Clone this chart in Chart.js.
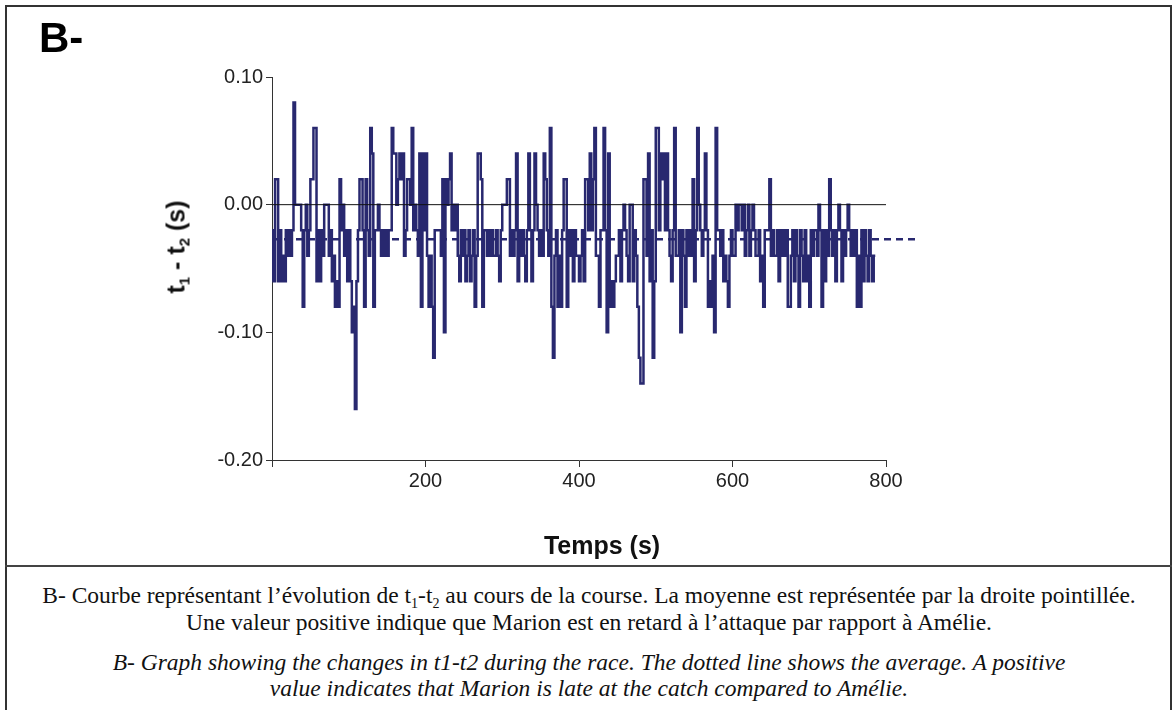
<!DOCTYPE html>
<html lang="fr">
<head>
<meta charset="utf-8">
<script src="https://cdn.jsdelivr.net/npm/chart.js@4.4.1/dist/chart.umd.min.js"></script>
<style>
  body { margin:0; width:1174px; height:710px; overflow:hidden; background:#fff; position:relative; font-family:"Liberation Sans", Arial, sans-serif; }
  #cadre { position:absolute; left:5px; top:5px; width:1163px; height:720px; border:2px solid #333; }
  #sep { position:absolute; left:5px; top:565px; width:1167px; height:2px; background:#444; }
  #titre { position:absolute; left:39px; top:14px; font-size:42px; font-weight:bold; color:#000; line-height:1.15; }
  #ytitre { position:absolute; left:176px; top:247px; transform:translate(-50%,-50%) rotate(-90deg); font-size:25px; font-weight:bold; white-space:nowrap; color:#111; }
  #xtitre { position:absolute; left:602px; top:545px; transform:translate(-50%,-50%); font-size:25px; font-weight:bold; white-space:nowrap; color:#111; }
  .leg { position:absolute; left:6px; width:1166px; text-align:center; font-family:"Liberation Serif", "Times New Roman", serif; font-size:23.5px; line-height:27px; color:#111; white-space:nowrap; }
  .leg i { font-style:italic; }
  sub { font-size:60%; vertical-align:-0.35em; line-height:0; }
  #myChart { position:absolute; left:0; top:0; }
</style>
</head>
<body>
<div id="cadre"></div>
<div id="sep"></div>
<canvas id="myChart" width="1174" height="566"></canvas>
<div id="titre">B-</div>
<div id="ytitre">t<sub>1</sub> - t<sub>2</sub> (s)</div>
<div id="xtitre">Temps (s)</div>
<div class="leg" style="top:582px">B- Courbe représentant l’évolution de t<sub>1</sub>-t<sub>2</sub> au cours de la course. La moyenne est représentée par la droite pointillée.</div>
<div class="leg" style="top:609px">Une valeur positive indique que Marion est en retard à l’attaque par rapport à Amélie.</div>
<div class="leg" style="top:649px"><i>B- Graph showing the changes in t1-t2 during the race. The dotted line shows the average. A positive</i></div>
<div class="leg" style="top:675px"><i>value indicates that Marion is late at the catch compared to Amélie.</i></div>
<script>
//t1-t2 (s), une valeur toutes les 2 s
const pas = 2;
const ecart = [
  -0.06,-0.02,-0.06,0.02,0.02,-0.06,-0.02,-0.06,-0.04,-0.06,
  -0.02,-0.04,-0.02,-0.04,-0.02,0.08,0,0,0,0,
  -0.02,-0.08,-0.02,0,-0.04,-0.02,0.02,0.02,0.06,0.06,
  -0.06,-0.02,-0.06,-0.02,-0.04,0,0,0,-0.04,-0.02,
  -0.06,-0.04,-0.08,-0.06,-0.08,0.02,-0.02,0,-0.04,-0.02,
  -0.06,-0.02,-0.06,-0.10,-0.08,-0.16,-0.06,-0.02,0.02,0.02,
  -0.02,-0.08,0.02,-0.02,-0.04,0.06,0.04,-0.08,-0.02,-0.02,
  0,-0.02,-0.04,-0.02,-0.04,-0.02,-0.04,-0.02,-0.02,0.06,
  0.04,0.04,0,0.02,0.04,0.02,0.04,-0.04,-0.02,0.02,
  0.02,0,0.06,-0.02,0,-0.02,-0.04,0.04,-0.08,0.04,
  -0.02,0.04,-0.04,-0.08,-0.04,-0.08,-0.12,-0.02,-0.02,-0.02,
  -0.02,-0.04,0.02,-0.10,0.02,0,0.02,0.04,-0.02,0,
  -0.02,0,-0.04,-0.06,-0.02,-0.04,-0.02,-0.06,-0.04,-0.02,
  -0.06,-0.04,-0.02,-0.08,-0.04,0.04,0.04,0.02,-0.08,-0.02,
  -0.02,-0.04,-0.02,-0.04,-0.02,-0.04,-0.04,-0.02,-0.04,-0.06,
  -0.02,0,0,0,0.02,0.02,-0.04,-0.02,-0.04,-0.02,
  0.04,-0.06,-0.02,-0.04,-0.02,-0.04,-0.06,-0.02,0.04,-0.02,
  -0.06,-0.02,0.04,0,-0.02,-0.04,-0.02,-0.04,0.04,0.02,
  -0.02,-0.04,0.06,-0.08,-0.12,-0.04,-0.02,-0.08,-0.04,-0.08,
  -0.02,0.02,0.02,-0.08,-0.02,-0.04,-0.02,-0.06,-0.02,-0.04,
  -0.04,-0.06,-0.04,-0.02,-0.06,0.02,0.02,-0.02,0.04,-0.02,
  0.02,0.06,-0.04,-0.04,-0.08,-0.02,-0.02,0.06,-0.02,-0.10,
  0.04,-0.08,-0.06,-0.08,-0.06,-0.04,-0.04,-0.02,-0.06,-0.02,
  0,-0.02,-0.04,-0.06,0,0,-0.06,-0.02,-0.04,-0.08,
  -0.12,-0.14,-0.14,0.02,0.02,-0.04,0.04,-0.06,-0.02,-0.12,
  -0.06,0.06,0.06,-0.02,0.04,0.02,0.04,-0.02,0.04,-0.02,
  -0.04,-0.06,-0.02,0.06,-0.04,-0.04,-0.02,-0.10,-0.02,-0.04,
  -0.08,-0.02,-0.04,-0.02,-0.04,0.02,-0.06,-0.02,0.06,0,
  -0.02,-0.04,-0.02,0.04,-0.02,-0.08,-0.06,-0.08,-0.04,-0.10,
  0.06,-0.02,-0.02,-0.04,-0.02,-0.06,-0.04,-0.06,-0.08,-0.04,
  -0.02,-0.04,-0.04,0,-0.02,0,0,-0.02,0,-0.04,
  -0.02,0,-0.04,-0.02,0,-0.02,-0.04,-0.04,-0.02,-0.06,
  -0.04,-0.08,-0.02,-0.02,-0.02,0.02,-0.04,-0.02,-0.04,-0.04,
  -0.02,-0.06,-0.02,-0.04,-0.02,-0.04,-0.02,-0.08,-0.08,-0.04,
  -0.02,-0.06,-0.02,-0.04,-0.08,-0.02,-0.04,-0.06,-0.02,-0.06,
  -0.04,-0.08,-0.02,-0.04,-0.02,-0.02,-0.04,0,-0.02,-0.08,
  -0.02,-0.06,-0.02,-0.04,0.02,-0.02,-0.04,-0.02,-0.06,-0.02,
  0,-0.02,-0.06,-0.02,-0.04,-0.02,0,-0.02,-0.04,-0.02,
  -0.04,-0.02,-0.08,-0.04,-0.08,-0.02,-0.06,-0.02,-0.04,-0.06,
  -0.02,-0.04,-0.06,-0.04
];
const moyenne = -0.027;     //droite pointillée
const finMoyenne = 841;     //la droite dépasse l'axe
const xTicks = [200, 400, 600, 800];
const yTicks = [0.10, 0.00, -0.10, -0.20];

const points = ecart.map((v, i) => ({ x: i * pas, y: v }));
const bleu = '#28286f';
const axe = '#333';
const police = { family: 'Liberation Sans', size: 20 };

const ctx = document.getElementById('myChart');
new Chart(ctx, {
  type: 'line',
  data: {
    datasets: [
      { data: points, borderColor: bleu, borderWidth: 2.5, stepped: 'after', pointRadius: 0, order: 3 },
      { data: [{x:0, y:0}, {x:800, y:0}], borderColor: '#111', borderWidth: 1, pointRadius: 0, order: 1 },
      { data: [{x:0, y:moyenne}, {x:finMoyenne, y:moyenne}], borderColor: bleu, borderWidth: 2.5,
        borderDash: [7, 5], pointRadius: 0, clip: false, order: 2 }
    ]
  },
  options: {
    responsive: false,
    animation: false,
    events: [],
    layout: { padding: { left: 212, top: 77, right: 288, bottom: 66 } },
    plugins: { legend: { display: false }, tooltip: { enabled: false } },
    scales: {
      x: {
        type: 'linear', min: 0, max: 800,
        afterBuildTicks: s => { s.ticks = [0].concat(xTicks).map(v => ({ value: v })); },
        afterFit: s => { s.height = 40; },
        ticks: { color: '#222', font: police, padding: 2, callback: v => v === 0 ? '' : v },
        grid: { drawOnChartArea: false, drawTicks: true, tickLength: 7, color: axe },
        border: { color: axe, width: 1 }
      },
      y: {
        min: -0.2, max: 0.1,
        afterBuildTicks: s => { s.ticks = yTicks.map(v => ({ value: v })); },
        afterFit: s => { s.width = 60; },
        ticks: { color: '#222', font: police, padding: 3, callback: v => Math.abs(v) < 1e-9 ? '0.00' : v.toFixed(2) },
        grid: { drawOnChartArea: false, drawTicks: true, tickLength: 6, color: axe },
        border: { color: axe, width: 1 }
      }
    }
  }
});
</script>
</body>
</html>
